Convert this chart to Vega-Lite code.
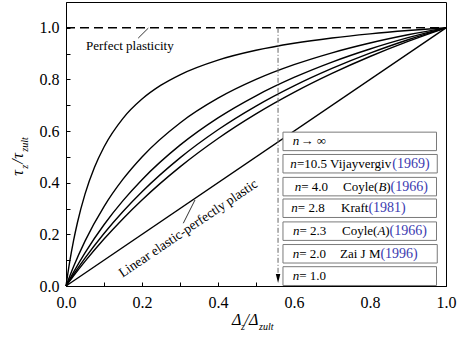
{
  "$schema": "https://vega.github.io/schema/vega-lite/v6.json",
  "width": 380,
  "height": 284,
  "autosize": {"type": "none"},
  "padding": {"left": 66, "top": 2, "right": 15, "bottom": 52},
  "background": "white",
  "config": {
    "font": "'Liberation Serif', 'Times New Roman', serif",
    "text": {"font": "'Liberation Serif', 'Times New Roman', serif"},
    "view": {"stroke": "black", "strokeWidth": 1},
    "axis": {
      "grid": false,
      "domainColor": "black",
      "domainWidth": 1,
      "tickColor": "black",
      "tickWidth": 1,
      "labelColor": "black",
      "labelFont": "'Liberation Serif', 'Times New Roman', serif",
      "labelFontSize": 16,
      "labelFlush": false,
      "labelOverlap": false
    }
  },
  "datasets": {
    "curves": [
      {"n": "10.5", "x": 0, "y": 0}, {"n": "10.5", "x": 0.01, "y": 0.0959}, {"n": "10.5", "x": 0.02, "y": 0.1765},
      {"n": "10.5", "x": 0.03, "y": 0.2451}, {"n": "10.5", "x": 0.05, "y": 0.3559}, {"n": "10.5", "x": 0.075, "y": 0.4599},
      {"n": "10.5", "x": 0.1, "y": 0.5385}, {"n": "10.5", "x": 0.15, "y": 0.6495}, {"n": "10.5", "x": 0.2, "y": 0.7241},
      {"n": "10.5", "x": 0.25, "y": 0.7778}, {"n": "10.5", "x": 0.3, "y": 0.8182}, {"n": "10.5", "x": 0.4, "y": 0.875},
      {"n": "10.5", "x": 0.5, "y": 0.913}, {"n": "10.5", "x": 0.6, "y": 0.9403}, {"n": "10.5", "x": 0.7, "y": 0.9608},
      {"n": "10.5", "x": 0.8, "y": 0.9767}, {"n": "10.5", "x": 0.9, "y": 0.9895}, {"n": "10.5", "x": 1, "y": 1},

      {"n": "4.0", "x": 0, "y": 0}, {"n": "4.0", "x": 0.02, "y": 0.0755}, {"n": "4.0", "x": 0.05, "y": 0.1739},
      {"n": "4.0", "x": 0.1, "y": 0.3077}, {"n": "4.0", "x": 0.15, "y": 0.4138}, {"n": "4.0", "x": 0.2, "y": 0.5},
      {"n": "4.0", "x": 0.3, "y": 0.6316}, {"n": "4.0", "x": 0.4, "y": 0.7273}, {"n": "4.0", "x": 0.5, "y": 0.8},
      {"n": "4.0", "x": 0.6, "y": 0.8571}, {"n": "4.0", "x": 0.7, "y": 0.9032}, {"n": "4.0", "x": 0.8, "y": 0.9412},
      {"n": "4.0", "x": 0.9, "y": 0.973}, {"n": "4.0", "x": 1, "y": 1},

      {"n": "2.8", "x": 0, "y": 0}, {"n": "2.8", "x": 0.02, "y": 0.0541}, {"n": "2.8", "x": 0.05, "y": 0.1284},
      {"n": "2.8", "x": 0.1, "y": 0.2373}, {"n": "2.8", "x": 0.15, "y": 0.3307}, {"n": "2.8", "x": 0.2, "y": 0.4118},
      {"n": "2.8", "x": 0.3, "y": 0.5455}, {"n": "2.8", "x": 0.4, "y": 0.6512}, {"n": "2.8", "x": 0.5, "y": 0.7368},
      {"n": "2.8", "x": 0.6, "y": 0.8077}, {"n": "2.8", "x": 0.7, "y": 0.8673}, {"n": "2.8", "x": 0.8, "y": 0.918},
      {"n": "2.8", "x": 0.9, "y": 0.9618}, {"n": "2.8", "x": 1, "y": 1},

      {"n": "2.3", "x": 0, "y": 0}, {"n": "2.3", "x": 0.02, "y": 0.0448}, {"n": "2.3", "x": 0.05, "y": 0.108},
      {"n": "2.3", "x": 0.1, "y": 0.2035}, {"n": "2.3", "x": 0.15, "y": 0.2887}, {"n": "2.3", "x": 0.2, "y": 0.3651},
      {"n": "2.3", "x": 0.3, "y": 0.4964}, {"n": "2.3", "x": 0.4, "y": 0.6053}, {"n": "2.3", "x": 0.5, "y": 0.697},
      {"n": "2.3", "x": 0.6, "y": 0.7753}, {"n": "2.3", "x": 0.7, "y": 0.8429}, {"n": "2.3", "x": 0.8, "y": 0.902},
      {"n": "2.3", "x": 0.9, "y": 0.9539}, {"n": "2.3", "x": 1, "y": 1},

      {"n": "2.0", "x": 0, "y": 0}, {"n": "2.0", "x": 0.02, "y": 0.0392}, {"n": "2.0", "x": 0.05, "y": 0.0952},
      {"n": "2.0", "x": 0.1, "y": 0.1818}, {"n": "2.0", "x": 0.15, "y": 0.2609}, {"n": "2.0", "x": 0.2, "y": 0.3333},
      {"n": "2.0", "x": 0.3, "y": 0.4615}, {"n": "2.0", "x": 0.4, "y": 0.5714}, {"n": "2.0", "x": 0.5, "y": 0.6667},
      {"n": "2.0", "x": 0.6, "y": 0.75}, {"n": "2.0", "x": 0.7, "y": 0.8235}, {"n": "2.0", "x": 0.8, "y": 0.8889},
      {"n": "2.0", "x": 0.9, "y": 0.9474}, {"n": "2.0", "x": 1, "y": 1},

      {"n": "1.0", "x": 0, "y": 0}, {"n": "1.0", "x": 1, "y": 1}
    ],
    "boxes": [
      {"row": 1, "x": 0.571, "x2": 0.975, "y": 0.5243, "y2": 0.5959},
      {"row": 2, "x": 0.571, "x2": 0.977, "y": 0.4378, "y2": 0.5094},
      {"row": 3, "x": 0.571, "x2": 0.975, "y": 0.3491, "y2": 0.4207},
      {"row": 4, "x": 0.571, "x2": 0.975, "y": 0.2654, "y2": 0.337},
      {"row": 5, "x": 0.571, "x2": 0.975, "y": 0.1766, "y2": 0.2482},
      {"row": 6, "x": 0.571, "x2": 0.977, "y": 0.089, "y2": 0.1606},
      {"row": 7, "x": 0.571, "x2": 0.975, "y": 0.002, "y2": 0.0748}
    ],
    "legend": [
      {"row": 1, "part": "var", "text": "n", "x": 0.5966, "y": 0.5601},
      {"row": 1, "part": "txt", "text": "→ ∞", "x": 0.6171, "y": 0.5601},
      {"row": 2, "part": "var", "text": "n", "x": 0.5903, "y": 0.4736},
      {"row": 2, "part": "txt", "text": "=10.5 Vijayvergiv", "x": 0.6079, "y": 0.4736},
      {"row": 2, "part": "yr", "text": "(1969)", "x": 0.8587, "y": 0.4736},
      {"row": 3, "part": "var", "text": "n", "x": 0.6018, "y": 0.3849},
      {"row": 3, "part": "txt", "text": "= 4.0", "x": 0.6189, "y": 0.3849},
      {"row": 3, "part": "txt", "text": "Coyle(", "x": 0.7289, "y": 0.3849},
      {"row": 3, "part": "var", "text": "B", "x": 0.8221, "y": 0.3849},
      {"row": 3, "part": "txt", "text": ")", "x": 0.8429, "y": 0.3849},
      {"row": 3, "part": "yr", "text": "(1966)", "x": 0.8542, "y": 0.3849},
      {"row": 4, "part": "var", "text": "n", "x": 0.5929, "y": 0.3012},
      {"row": 4, "part": "txt", "text": "= 2.8", "x": 0.61, "y": 0.3012},
      {"row": 4, "part": "txt", "text": "Kraft", "x": 0.7237, "y": 0.3012},
      {"row": 4, "part": "yr", "text": "(1981)", "x": 0.7958, "y": 0.3012},
      {"row": 5, "part": "var", "text": "n", "x": 0.5974, "y": 0.2124},
      {"row": 5, "part": "txt", "text": "= 2.3", "x": 0.6145, "y": 0.2124},
      {"row": 5, "part": "txt", "text": "Coyle(", "x": 0.7263, "y": 0.2124},
      {"row": 5, "part": "var", "text": "A", "x": 0.8195, "y": 0.2124},
      {"row": 5, "part": "txt", "text": ")", "x": 0.8403, "y": 0.2124},
      {"row": 5, "part": "yr", "text": "(1966)", "x": 0.8516, "y": 0.2124},
      {"row": 6, "part": "var", "text": "n", "x": 0.5966, "y": 0.1248},
      {"row": 6, "part": "txt", "text": "= 2.0", "x": 0.6137, "y": 0.1248},
      {"row": 6, "part": "txt", "text": "Zai J M", "x": 0.7211, "y": 0.1248},
      {"row": 6, "part": "yr", "text": "(1996)", "x": 0.8274, "y": 0.1248},
      {"row": 7, "part": "var", "text": "n", "x": 0.5966, "y": 0.0376},
      {"row": 7, "part": "txt", "text": "= 1.0", "x": 0.6137, "y": 0.0376}
    ],
    "titles": [
      {"part": "xmain", "text": "Δ", "x": 0.4368, "y": -0.1512},
      {"part": "xsub", "text": "z", "x": 0.4605, "y": -0.1705},
      {"part": "xmain", "text": "/", "x": 0.4697, "y": -0.1512},
      {"part": "xmain", "text": "Δ", "x": 0.4816, "y": -0.1512},
      {"part": "xsub", "text": "zult", "x": 0.5079, "y": -0.1705},
      {"part": "ymain", "text": "τ", "x": -0.1132, "y": 0.427},
      {"part": "ysub", "text": "z", "x": -0.1, "y": 0.454},
      {"part": "ymain", "text": "/", "x": -0.1132, "y": 0.4735},
      {"part": "ymain", "text": "τ", "x": -0.1132, "y": 0.493},
      {"part": "ysub", "text": "zult", "x": -0.1, "y": 0.52}
    ],
    "leaders": [
      {"label": "Perfect plasticity", "x": 0.19, "y": 0.96, "x2": 0.2167, "y2": 0.999},
      {"label": "Linear elastic-perfectly plastic", "x": 0.3087, "y": 0.243, "x2": 0.3395, "y2": 0.3333}
    ]
  },
  "encoding": {
    "x": {
      "field": "x", "type": "quantitative",
      "scale": {"domain": [0, 1], "nice": false, "zero": false},
      "axis": {
        "title": null,
        "values": [0, 0.1, 0.2, 0.3, 0.4, 0.5, 0.6, 0.7, 0.8, 0.9, 1],
        "labelExpr": "round(datum.value * 10) % 2 == 0 ? format(datum.value, '.1f') : ''",
        "tickSize": -4,
        "labelPadding": 12
      }
    },
    "y": {
      "field": "y", "type": "quantitative",
      "scale": {"domain": [0, 1.1], "nice": false, "zero": false},
      "axis": {
        "title": null,
        "values": [0, 0.1, 0.2, 0.3, 0.4, 0.5, 0.6, 0.7, 0.8, 0.9, 1],
        "labelExpr": "round(datum.value * 10) % 2 == 0 ? format(datum.value, '.1f') : ''",
        "tickSize": -4,
        "labelPadding": 11
      }
    }
  },
  "layer": [
    {
      "data": {"name": "curves"},
      "mark": {"type": "line", "interpolate": "monotone", "color": "black", "strokeWidth": 1.4},
      "encoding": {"detail": {"field": "n", "type": "nominal"}}
    },
    {
      "data": {"values": [{"x": 0, "y": 1}, {"x": 1, "y": 1}]},
      "mark": {"type": "line", "color": "black", "strokeWidth": 1.5, "strokeDash": [9, 5]},
      "encoding": {}
    },
    {
      "data": {"values": [{"x": 0.558, "y": 1, "y2": 0.03}]},
      "mark": {"type": "rule", "color": "#666666", "strokeWidth": 1, "strokeDash": [5, 2, 1, 2]},
      "encoding": {"y2": {"field": "y2"}}
    },
    {
      "data": {"values": [{"x": 0.558, "y": 0.029}]},
      "mark": {"type": "point", "shape": "M-0.5,-1L0.5,-1L0,1Z", "size": 81, "filled": true, "color": "black", "opacity": 1},
      "encoding": {}
    },
    {
      "data": {"name": "leaders"},
      "mark": {"type": "rule", "color": "black", "strokeWidth": 0.8},
      "encoding": {"x2": {"field": "x2"}, "y2": {"field": "y2"}}
    },
    {
      "data": {"values": [{"text": "Perfect plasticity", "x": 0.0526, "y": 0.93}]},
      "mark": {"type": "text", "align": "left", "baseline": "middle", "fontSize": 13, "color": "black"},
      "encoding": {"text": {"field": "text"}}
    },
    {
      "data": {"values": [{"text": "Linear elastic-perfectly plastic", "x": 0.3276, "y": 0.2097}]},
      "mark": {"type": "text", "align": "center", "baseline": "alphabetic", "angle": -34, "fontSize": 13.5, "color": "black"},
      "encoding": {"text": {"field": "text"}}
    },
    {
      "data": {"name": "boxes"},
      "mark": {"type": "rect", "fill": "white", "stroke": "#7a7a7a", "strokeWidth": 1},
      "encoding": {"x2": {"field": "x2"}, "y2": {"field": "y2"}}
    },
    {
      "data": {"name": "legend"},
      "transform": [{"filter": "datum.part == 'var'"}],
      "mark": {"type": "text", "align": "left", "baseline": "middle", "fontSize": 13, "fontStyle": "italic", "color": "black"},
      "encoding": {"text": {"field": "text"}}
    },
    {
      "data": {"name": "legend"},
      "transform": [{"filter": "datum.part == 'txt'"}],
      "mark": {"type": "text", "align": "left", "baseline": "middle", "fontSize": 13, "color": "black"},
      "encoding": {"text": {"field": "text"}}
    },
    {
      "data": {"name": "legend"},
      "transform": [{"filter": "datum.part == 'yr'"}],
      "mark": {"type": "text", "align": "left", "baseline": "middle", "fontSize": 14, "color": "#3b3bb0"},
      "encoding": {"text": {"field": "text"}}
    },
    {
      "data": {"name": "titles"},
      "transform": [{"filter": "datum.part == 'xmain'"}],
      "mark": {"type": "text", "align": "left", "baseline": "alphabetic", "fontSize": 16, "fontStyle": "italic", "color": "black"},
      "encoding": {"text": {"field": "text"}}
    },
    {
      "data": {"name": "titles"},
      "transform": [{"filter": "datum.part == 'xsub'"}],
      "mark": {"type": "text", "align": "left", "baseline": "alphabetic", "fontSize": 10, "fontStyle": "italic", "color": "black"},
      "encoding": {"text": {"field": "text"}}
    },
    {
      "data": {"name": "titles"},
      "transform": [{"filter": "datum.part == 'ymain'"}],
      "mark": {"type": "text", "align": "left", "baseline": "alphabetic", "angle": -90, "fontSize": 16, "fontStyle": "italic", "color": "black"},
      "encoding": {"text": {"field": "text"}}
    },
    {
      "data": {"name": "titles"},
      "transform": [{"filter": "datum.part == 'ysub'"}],
      "mark": {"type": "text", "align": "left", "baseline": "alphabetic", "angle": -90, "fontSize": 10, "fontStyle": "italic", "color": "black"},
      "encoding": {"text": {"field": "text"}}
    }
  ]
}
